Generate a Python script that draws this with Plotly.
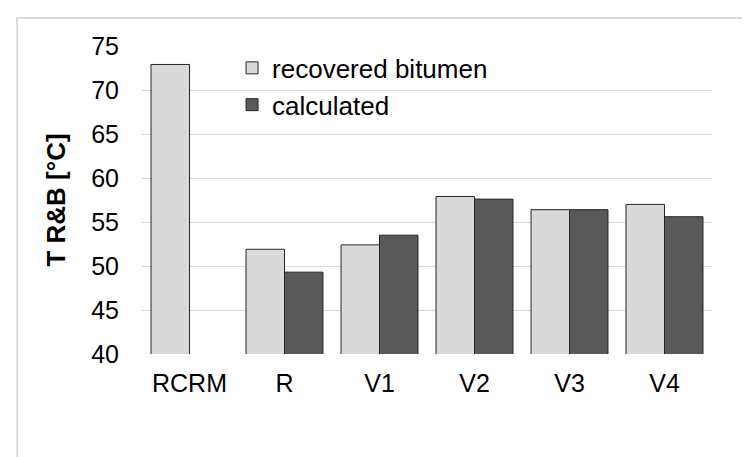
import plotly.graph_objects as go

categories = ["RCRM", "R", "V1", "V2", "V3", "V4"]
recovered = [72.9, 51.9, 52.4, 57.9, 56.4, 57.0]
calculated = [0, 49.3, 53.5, 57.6, 56.4, 55.6]
y_ticks = [40, 45, 50, 55, 60, 65, 70, 75]

FONT = "Liberation Sans, Arial, sans-serif"

fig = go.Figure()
fig.add_trace(go.Bar(
    x=categories, y=recovered, name="recovered bitumen",
    marker=dict(color="#d9d9d9", line=dict(color="#262626", width=1)),
))
fig.add_trace(go.Bar(
    x=categories, y=calculated, name="calculated",
    marker=dict(color="#595959", line=dict(color="#262626", width=1)),
))

fig.update_layout(
    width=750, height=457,
    margin=dict(l=134, r=46, t=38, b=111),
    paper_bgcolor="white", plot_bgcolor="white",
    barmode="group", bargap=0.19, bargroupgap=0,
    font=dict(family=FONT, size=25, color="#000000"),
    showlegend=True,
    legend=dict(
        x=0.158, y=1.005, xanchor="left", yanchor="top",
        bgcolor="rgba(0,0,0,0)", font=dict(size=26),
        itemwidth=30, tracegroupgap=0,
    ),
    shapes=[dict(
        type="rect", xref="paper", yref="paper",
        x0=-0.219, x1=1.3, y0=-0.6, y1=1.0909,
        line=dict(color="#d9d9d9", width=2), fillcolor="rgba(0,0,0,0)",
        layer="below",
    )],
)
fig.update_xaxes(
    showline=False, showgrid=False, ticks="",
    tickfont=dict(size=25), ticklabelstandoff=12,
)
fig.update_yaxes(
    range=[40, 75], tickvals=y_ticks,
    showgrid=True, gridcolor="#d9d9d9", gridwidth=1,
    showline=False, zeroline=False, ticks="",
    tickfont=dict(size=25), ticklabelstandoff=22,
    title=dict(text="<b>T R&amp;B [°C]</b>", font=dict(size=26), standoff=18),
)

fig.write_html("out.html")
